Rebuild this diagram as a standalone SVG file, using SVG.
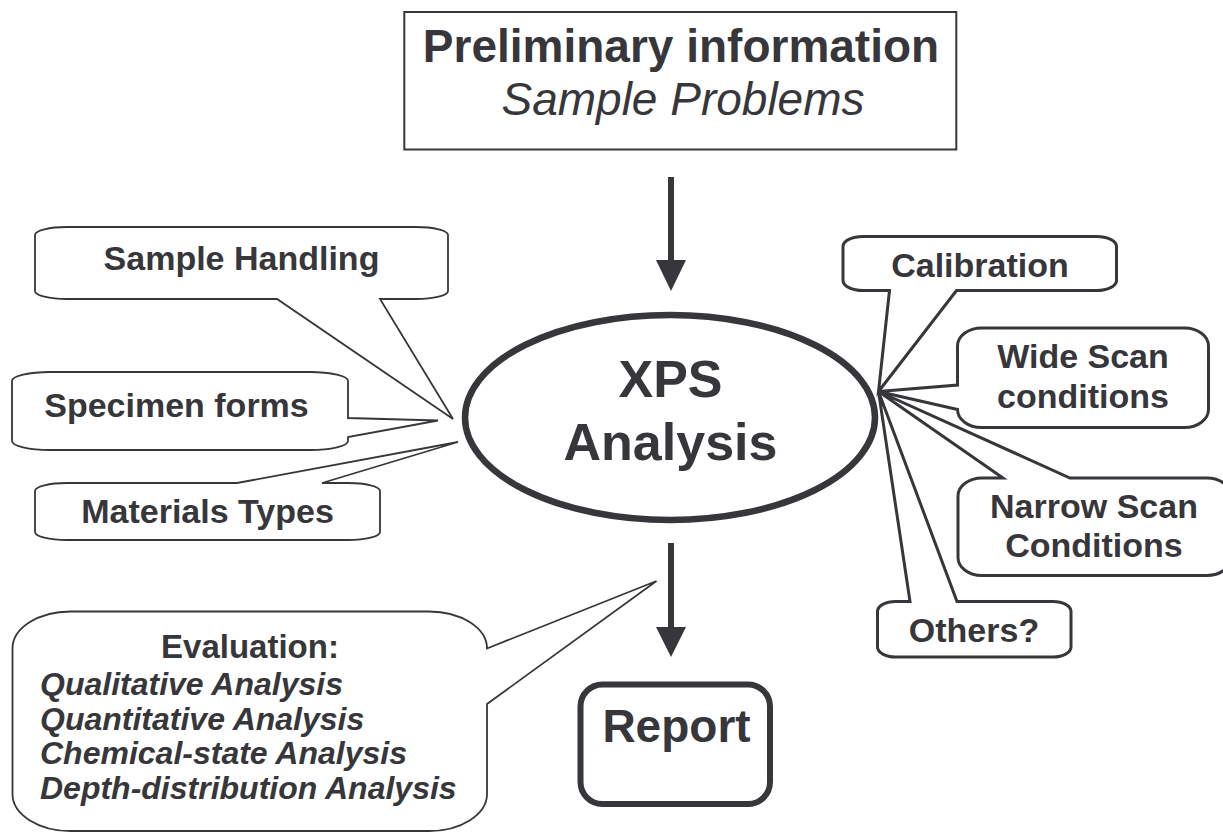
<svg xmlns="http://www.w3.org/2000/svg" width="1223" height="833" viewBox="0 0 1223 833">
<style>
  .t{font-family:"Liberation Sans",Arial,sans-serif;fill:#37373b;text-anchor:middle}
  .b{font-weight:bold}
  .cl{fill:#ffffff;stroke:#37373b;stroke-width:1.8;stroke-linejoin:miter}
  .cr{fill:#ffffff;stroke:#37373b;stroke-width:3;stroke-linejoin:miter}
  .arr{stroke:#37373b;stroke-width:6;fill:none}
  .head{fill:#37373b}
</style>
<rect width="1223" height="833" fill="#ffffff"/>
<g id="preliminary">
  <rect x="404.3" y="12" width="552" height="137.5" fill="#ffffff" stroke="#37373b" stroke-width="2"/>
  <text class="t b" x="681" y="62" font-size="46">Preliminary information</text>
  <text class="t" x="683" y="115" font-size="46" font-style="italic">Sample Problems</text>
</g>
<g id="xps">
  <ellipse cx="670" cy="417.5" rx="205" ry="102.5" fill="#ffffff" stroke="#37373b" stroke-width="6.5"/>
  <text class="t b" x="670.5" y="397" font-size="52">XPS</text>
  <text class="t b" x="670.5" y="460" font-size="52">Analysis</text>
</g>
<g id="report">
  <rect x="580.5" y="684.5" width="189.5" height="119.5" rx="22" ry="22" fill="#ffffff" stroke="#37373b" stroke-width="6"/>
  <text class="t b" x="676.5" y="742" font-size="46">Report</text>
</g>
<g id="connectors">
  <line class="arr" x1="671" y1="177" x2="671" y2="262"/>
  <polygon class="head" points="656,260 686,260 671,291"/>
  <line class="arr" x1="671" y1="543" x2="671" y2="629"/>
  <polygon class="head" points="656,627 686,627 671,657"/>
</g>
<g id="sample-handling">
  <path class="cl" d="M 67,227 H 416 A 32 8 0 0 1 448,235 V 291 A 32 8 0 0 1 416,299 H 380 L 453,419 L 277,299 H 67 A 32 8 0 0 1 35,291 V 235 A 32 8 0 0 1 67,227 Z"/>
  <text class="t b" x="241.5" y="270" font-size="34">Sample Handling</text>
</g>
<g id="specimen-forms">
  <path class="cl" d="M 50,372 H 310 A 38 9 0 0 1 348,381 V 418 L 438,420.5 L 348,437 V 441 A 38 9 0 0 1 310,450 H 50 A 38 9 0 0 1 12,441 V 381 A 38 9 0 0 1 50,372 Z"/>
  <text class="t b" x="176.5" y="416.7" font-size="34">Specimen forms</text>
</g>
<g id="materials-types">
  <path class="cl" d="M 67,483 H 237 L 458,442 L 322,483 H 348 A 32 8 0 0 1 380,491 V 532 A 32 8 0 0 1 348,540 H 67 A 32 8 0 0 1 35,532 V 491 A 32 8 0 0 1 67,483 Z"/>
  <text class="t b" x="207.5" y="523.3" font-size="34">Materials Types</text>
</g>
<g id="calibration">
  <path class="cr" d="M 863,236.5 H 1096.5 A 20 10 0 0 1 1116.5,246.5 V 280.5 A 20 10 0 0 1 1096.5,290.5 H 956.5 L 878.5,391.5 L 889.5,290.5 H 863 A 20 10 0 0 1 843,280.5 V 246.5 A 20 10 0 0 1 863,236.5 Z"/>
  <text class="t b" x="980" y="277" font-size="34">Calibration</text>
</g>
<g id="wide-scan">
  <path class="cr" d="M 981.5,328 H 1184.5 A 24 18 0 0 1 1208.5,346 V 409.5 A 24 18 0 0 1 1184.5,427.5 H 981.5 A 24 18 0 0 1 957.5,409.5 L 878.5,391.5 L 957.5,385 V 346 A 24 18 0 0 1 981.5,328 Z"/>
  <text class="t b" x="1083" y="368" font-size="34">Wide Scan</text>
  <text class="t b" x="1083" y="408" font-size="34">conditions</text>
</g>
<g id="narrow-scan">
  <path class="cr" d="M 982,478 H 1003 L 878.5,391.5 L 1070,478 H 1207 A 24 18 0 0 1 1231,496 V 557.5 A 24 18 0 0 1 1207,575.5 H 982 A 24 18 0 0 1 958,557.5 V 496 A 24 18 0 0 1 982,478 Z"/>
  <text class="t b" x="1094" y="518" font-size="34">Narrow Scan</text>
  <text class="t b" x="1094" y="556.7" font-size="34">Conditions</text>
</g>
<g id="others">
  <path class="cr" d="M 895.5,601.5 H 910 L 878.5,391.5 L 957,601.5 H 1053 A 18 10 0 0 1 1071,611.5 V 647 A 18 10 0 0 1 1053,657 H 895.5 A 18 10 0 0 1 877.5,647 V 611.5 A 18 10 0 0 1 895.5,601.5 Z"/>
  <text class="t b" x="974" y="641.7" font-size="34">Others?</text>
</g>
<g id="evaluation">
  <path class="cl" d="M 70.5,611.5 H 429 A 58 37 0 0 1 487,648.5 L 656.5,581 L 487,704 V 794 A 58 37 0 0 1 429,831 H 70.5 A 58 37 0 0 1 12.5,794 V 648.5 A 58 37 0 0 1 70.5,611.5 Z"/>
  <text class="t b" x="250" y="658" font-size="33">Evaluation:</text>
  <g class="t b" font-size="32" font-style="italic" text-anchor="start" style="text-anchor:start">
    <text x="40" y="695">Qualitative Analysis</text>
    <text x="40" y="729.5">Quantitative Analysis</text>
    <text x="40" y="764">Chemical-state Analysis</text>
    <text x="40" y="798.5">Depth-distribution Analysis</text>
  </g>
</g>
</svg>
